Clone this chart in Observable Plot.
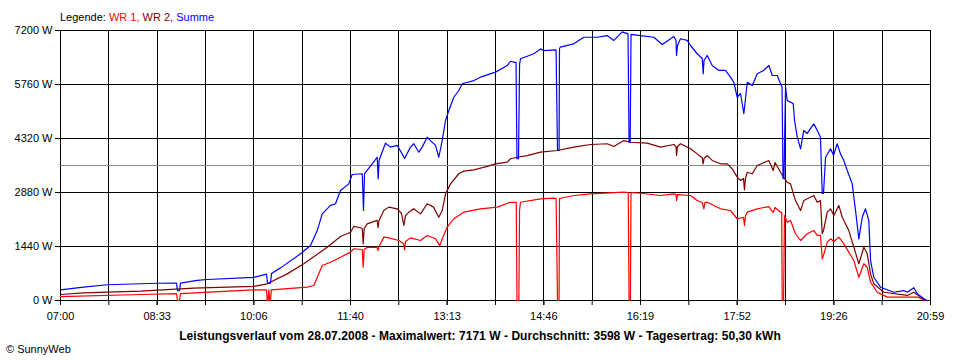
<!DOCTYPE html>
<html>
<head>
<meta charset="utf-8">
<script src="https://cdn.jsdelivr.net/npm/d3@7"></script>
<script src="https://cdn.jsdelivr.net/npm/@observablehq/plot@0.6"></script>
<style>
  html, body { margin: 0; padding: 0; background: #fff; }
  #wrap { position: relative; width: 960px; height: 360px; font-family: "Liberation Sans", Arial, sans-serif; }
  #legend { position: absolute; left: 60px; top: 10px; font-size: 11px; line-height: 14px; color: #000; }
  #caption { position: absolute; left: 0; width: 960px; top: 329px; text-align: center; font-size: 12px; font-weight: bold; line-height: 14px; letter-spacing: 0.05px; }
  #copy { position: absolute; left: 6px; top: 342px; font-size: 11px; line-height: 14px; }
  svg { display: block; }
</style>
</head>
<body>
<div id="wrap">
  <div id="chart"></div>
  <div id="legend">Legende: <span style="color:#ff0000">WR 1,</span> <span style="color:#800000">WR 2,</span> <span style="color:#0000ff">Summe</span></div>
  <div id="caption">Leistungsverlauf vom 28.07.2008 - Maximalwert: 7171 W - Durchschnitt: 3598 W - Tagesertrag: 50,30 kWh</div>
  <div id="copy">© SunnyWeb</div>
</div>
<script>
// Time axis: minutes after 07:00 (07:00 .. 20:59)
const timeLabels = ["07:00","08:33","10:06","11:40","13:13","14:46","16:19","17:52","19:26","20:59"];
const labelMinutes = [0, 93.2, 186.4, 279.7, 372.9, 466.1, 559.3, 652.6, 745.8, 839];
const yTicks = [0, 1440, 2880, 4320, 5760, 7200];
const meanPower = 3598;

// WR 1 (red)
const wr1Min = [0,77.2,111.9,112.8,114.8,115.7,147.8,186.4,198.7,199.3,200.1,200.9,201.8,202.5,203.3,237.9,244.3,252.4,260.4,270.0,279.7,282.9,291.0,291.9,292.9,295.8,305.2,306.2,307.2,311.8,316.6,326.3,330.8,331.8,332.7,337.5,347.2,353.6,361.7,365.8,368.1,372.9,379.3,388.9,405.0,421.2,434.0,439.5,440.2,442.0,442.7,443.6,462.9,475.7,477.9,478.6,479.3,480.8,481.2,495.0,511.1,543.3,547.5,548.3,549.6,550.2,559.4,578.6,591.5,593.6,594.1,595.0,607.6,614.0,618.9,620.4,621.5,623.7,636.5,646.1,652.6,658.7,659.6,660.6,662.3,671.9,683.1,687.3,689.1,694.4,695.5,696.0,697.3,698.2,700.8,704.0,708.8,713.7,720.1,726.5,729.8,732.9,734.6,735.8,739.4,742.6,745.8,750.6,755.4,765.1,769.9,774.7,778.0,781.2,787.6,797.3,826.2,829.4,833.2];
const wr1W = [105,160,185,0,0,185,230,285,285,0,0,285,0,0,285,355,400,935,1020,1155,1290,1380,1360,890,1360,1420,1415,1335,1440,1690,1670,1600,1520,1350,1575,1670,1600,1735,1645,1465,1645,1955,2180,2355,2445,2490,2620,2615,0,0,2400,2620,2710,2730,2720,1385,0,0,2720,2800,2845,2890,2880,0,0,2880,2860,2800,2845,2825,2665,2825,2800,2665,2615,2445,2615,2620,2445,2400,2180,2215,2000,2265,2355,2445,2505,2345,2480,2355,2345,0,0,2265,2090,2135,1780,1600,1780,1865,1735,1735,1110,1200,1555,1645,1575,1690,1510,1065,620,980,880,490,220,90,90,65,0];

// WR 2 (dark red)
const wr2Min = [0,22.2,77.2,128.3,186.1,199.3,218.6,234.6,257.2,270.0,279.7,282.9,289.3,291.0,291.9,292.9,295.8,305.4,306.2,307.2,311.8,316.6,324.7,328.9,331.1,332.7,335.9,340.7,347.2,353.6,359.7,364.8,368.1,371.3,376.1,384.1,388.9,398.6,411.5,419.5,430.8,434.0,440.4,450.1,462.9,479.0,495.0,511.1,527.2,533.6,543.3,549.7,565.8,578.6,591.5,593.6,594.1,595.0,597.9,607.6,614.0,618.9,619.8,620.6,623.7,628.5,636.5,643.0,647.8,652.6,655.8,658.7,659.6,660.6,662.3,667.1,671.9,683.1,687.3,689.1,694.4,696.8,700.8,704.0,708.8,713.7,716.8,726.5,729.8,732.9,734.6,735.8,739.4,742.6,745.8,750.6,753.9,760.2,765.1,769.9,774.7,778.0,781.2,784.3,794.0,816.6,822.9,829.4,834.2];
const wr2W = [160,205,250,330,375,445,710,980,1420,1705,1820,1975,1940,1920,1510,1920,2045,2135,1940,2135,2400,2490,2445,2320,2000,2265,2355,2445,2310,2580,2490,2220,2400,2845,3110,3380,3450,3485,3575,3645,3690,3780,3820,3865,3955,4000,4090,4160,4180,4105,4265,4220,4195,4090,4160,4105,3865,4105,4180,4045,3910,3800,3645,3785,3865,3735,3645,3645,3510,3290,3200,3255,2950,3255,3420,3380,3600,3735,3465,3680,3420,3305,3155,3110,2665,2400,2665,2800,2620,2665,1780,1865,2355,2445,2265,2535,2220,1865,1420,980,1420,1245,710,445,220,135,220,90,0];

// Summe (blue)
const sumMin = [0,22.2,45.0,93.3,111.9,112.8,114.8,115.7,131.8,141.5,186.4,198.7,199.6,202.5,203.5,212.2,231.5,241.1,247.6,252.4,260.4,265.2,270.0,278.0,281.3,291.0,292.2,293.2,300.6,305.4,306.4,307.2,313.4,318.3,324.7,329.5,331.8,337.5,340.7,345.5,348.8,353.6,356.8,361.7,364.8,368.1,371.3,374.5,379.3,384.1,387.4,398.6,405.0,419.5,430.8,434.0,439.3,440.2,441.7,442.7,443.6,456.5,462.9,465.8,477.9,478.6,479.3,480.8,481.2,482.1,495.0,504.7,517.6,527.2,533.6,541.7,547.3,548.3,549.4,550.2,559.4,572.2,580.3,591.5,593.6,594.1,595.0,597.9,604.4,607.6,614.0,618.9,619.8,620.6,623.7,628.5,634.9,641.3,646.1,649.3,652.6,655.8,659.0,662.3,667.1,671.9,678.0,683.1,686.4,691.2,694.4,695.8,696.8,697.7,699.2,700.8,704.0,706.6,707.9,710.5,713.7,716.8,720.1,726.5,729.8,732.9,734.6,735.8,737.8,742.6,745.5,749.0,752.2,755.4,758.7,763.5,766.7,769.9,773.2,776.3,779.5,781.2,784.3,790.8,803.6,813.3,816.6,822.9,826.2,832.6,835.8];
const sumW = [285,355,420,460,465,265,265,465,535,560,615,705,460,460,720,870,1245,1465,1865,2310,2535,2580,2935,3110,3360,3380,2400,3385,3645,3820,3245,3735,4195,4090,4135,3910,3785,4090,4180,3955,4090,4355,4265,4135,3820,4265,4800,5065,5420,5600,5780,5865,5955,6090,6265,6380,6345,3780,3780,6295,6445,6580,6710,6665,6685,5333,4000,4000,6720,6755,6845,7020,7020,7065,6935,7165,7110,4220,4220,7095,7065,7020,6825,7040,6935,6535,6800,6980,6935,6800,6580,6455,6045,6400,6535,6265,6135,6135,5955,5820,5420,5520,4980,5820,5735,6045,6135,6265,6000,6000,5780,5705,3255,3255,5690,5335,5290,5255,4800,4355,4045,4535,4455,4710,4535,4355,2855,2855,3820,4045,3865,4180,3910,3735,3465,3110,2400,1645,2220,2445,2135,1065,620,355,220,265,220,340,180,45,0];

const rows = (mins, vals) => mins.map((m, i) => ({m, w: vals[i]}));
const step = 839 / 18;
const gridMinutes = d3.range(19).map(i => i * step);

const chart = Plot.plot({
  width: 960,
  height: 360,
  marginLeft: 60,
  marginRight: 30,
  marginTop: 30,
  marginBottom: 60,
  x: {domain: [0, 839]},
  y: {domain: [0, 7200]},
  style: {fontFamily: "'Liberation Sans', Arial, sans-serif", fontSize: "11px", background: "white", color: "black"},
  marks: [
    Plot.ruleY(yTicks, {stroke: "black", strokeWidth: 1, shapeRendering: "crispEdges"}),
    Plot.ruleX(gridMinutes, {stroke: "black", strokeWidth: 1, shapeRendering: "crispEdges"}),
    Plot.ruleY([meanPower], {stroke: "#8c8c8c", strokeWidth: 1, shapeRendering: "crispEdges"}),
    Plot.axisY(yTicks, {tickSize: 5, tickPadding: 3, tickFormat: d => `${d} W`, label: null, fill: "black"}),
    Plot.axisX(gridMinutes, {tickSize: 5, tickFormat: () => "", label: null}),
    Plot.axisX(labelMinutes, {tickSize: 5, tickPadding: 7, tickFormat: d => timeLabels[labelMinutes.indexOf(d)], label: null, fill: "black"}),
    Plot.line(rows(wr1Min, wr1W), {x: "m", y: "w", stroke: "#ff0000", strokeWidth: 1.2}),
    Plot.line(rows(wr2Min, wr2W), {x: "m", y: "w", stroke: "#800000", strokeWidth: 1.2}),
    Plot.line(rows(sumMin, sumW), {x: "m", y: "w", stroke: "#0000ff", strokeWidth: 1.2})
  ]
});
document.getElementById("chart").appendChild(chart);
</script>
</body>
</html>
